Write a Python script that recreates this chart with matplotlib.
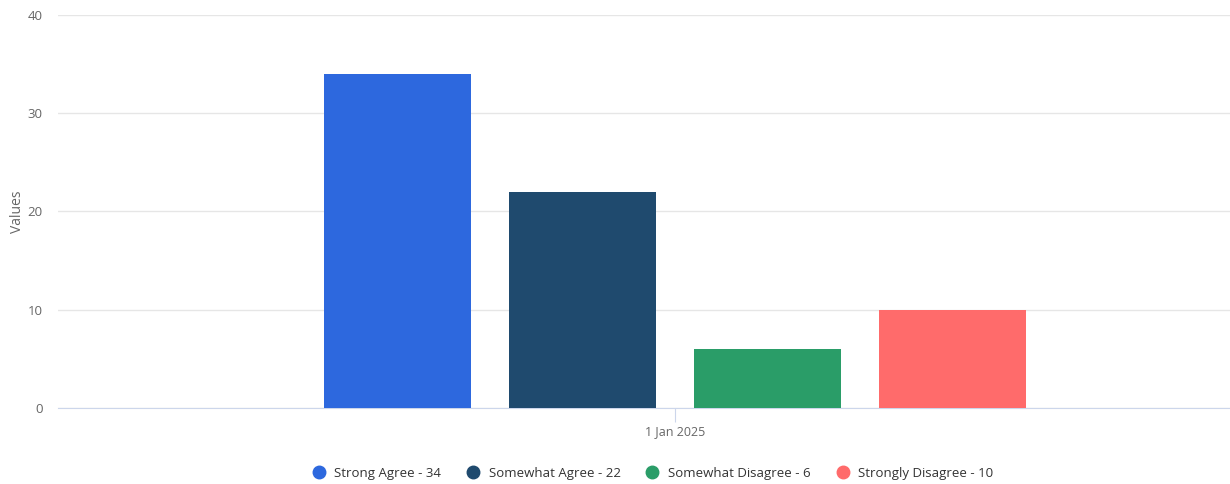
import matplotlib.pyplot as plt
from matplotlib.lines import Line2D
import numpy as np

plt.rcParams['font.family'] = ['Open Sans', 'DejaVu Sans']

labels = ["Strong Agree", "Somewhat Agree", "Somewhat Disagree", "Strongly Disagree"]
values = [34, 22, 6, 10]
colors = ["#2d68de", "#1f4a6e", "#2a9d68", "#ff6b6b"]
category = "1 Jan 2025"

fig = plt.figure(figsize=(12.3, 4.84), dpi=100)
ax = fig.add_axes([58 / 1230, 76 / 484, 1172 / 1230, 393 / 484])

step = 1.2585
xs = (np.arange(len(values)) - 1.5) * step
for x, v, c in zip(xs, values, colors):
    ax.bar(x, v, width=1.0, color=c, zorder=3)

ax.set_xlim(-4.197, 3.776)
ax.set_ylim(0, 40)
ax.set_yticks([0, 10, 20, 30, 40])
ax.grid(axis='y', color='#e6e6e6', linewidth=1, zorder=0)
ax.set_xticks([0])
ax.set_xticklabels([category], fontsize=9, color='#666666')
ax.tick_params(axis='x', length=10, color='#ccd6eb', pad=2)
ax.tick_params(axis='y', length=0, labelsize=9.5, labelcolor='#666666', pad=11)

for side in ['top', 'right', 'left']:
    ax.spines[side].set_visible(False)
ax.spines['bottom'].set_color('#ccd6eb')

ax.set_ylabel("Values", fontsize=10, color='#666666')
ax.yaxis.set_label_coords(-33 / 1172, 0.5)

handles = [Line2D([], [], marker='o', linestyle='none', markersize=9,
                  markerfacecolor=c, markeredgecolor=c) for c in colors]
names = [f"{l} - {v}" for l, v in zip(labels, values)]
fig.legend(handles, names, loc='center', bbox_to_anchor=(0.528, 1 - 473 / 484),
           ncol=4, frameon=False, fontsize=9.5, handletextpad=0.2,
           columnspacing=1.4, labelcolor='#333333')

fig.savefig("out.png", dpi=100)
